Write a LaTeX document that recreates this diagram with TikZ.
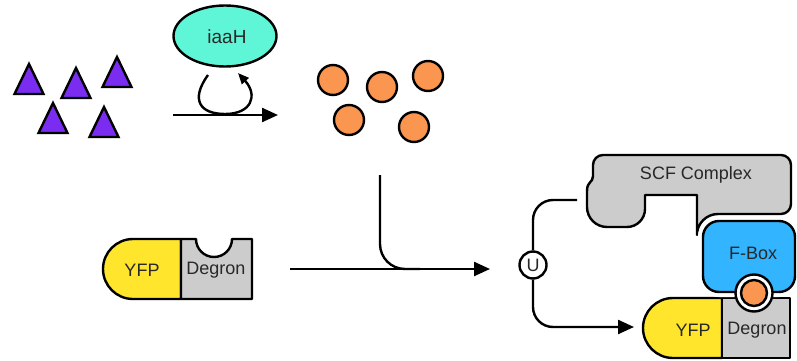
\documentclass[tikz,border=0pt]{standalone}
\usepackage{fontspec}
\setmainfont{Liberation Sans}
\usetikzlibrary{shapes.geometric,arrows.meta}
\definecolor{tripurple}{RGB}{122,44,240}
\definecolor{turq}{RGB}{95,245,215}
\definecolor{dotorange}{RGB}{250,150,80}
\definecolor{yfpyellow}{RGB}{255,230,45}
\definecolor{boxgray}{RGB}{204,204,204}
\definecolor{fblue}{RGB}{50,180,255}
\definecolor{txt}{RGB}{40,40,40}
\tikzset{
  lw/.style={line width=2.4pt},
  tri/.style={lw, draw=black, fill=tripurple, line join=miter},
  dot/.style={circle, lw, draw=black, fill=dotorange, minimum size=30pt, inner sep=0pt},
  lbl/.style={text=txt, font=\fontsize{18}{21}\selectfont, inner sep=0pt},
  arr/.style={lw, -{Triangle[length=16pt,width=14pt]}},
  smallarr/.style={lw, -{Triangle[length=11pt,width=9pt]}},
  part/.style={lw, draw=black, line join=round},
}
\begin{document}
\begin{tikzpicture}[x=1pt,y=-1pt]
\useasboundingbox (0,0) rectangle (797,361);
\clip (0,0) rectangle (797,361);
% triangles
\foreach \ax/\ay in {29/64, 76/68, 117/57, 53/103, 104/107}
  \draw[tri] (\ax,\ay) -- ++(14.5,30) -- ++(-29,0) -- cycle;
% iaaH
\node[ellipse, lw, draw=black, fill=turq, minimum width=103pt, minimum height=61pt, inner sep=0pt] (iaah) at (225,36) {};
\node[lbl, font=\fontsize{19}{22}\selectfont] (iaahlbl) at (227,37) {iaaH};
% top arrow and loop
\coordinate (ta1) at (173,115);
\coordinate (ta2) at (278,115);
\draw[arr] (ta1) -- (ta2);
\coordinate (loopstart) at (208,75);
\coordinate (loopbot) at (225,114);
\coordinate (loopend) at (238,73);
\draw[smallarr] (loopstart) .. controls (190,100) and (200,114) .. (loopbot)
  .. controls (252,114) and (258,95) .. (loopend);
% orange dots
\node[dot] (d1) at (333,80) {};
\node[dot] (d2) at (382,87) {};
\node[dot] (d3) at (428,76) {};
\node[dot] (d4) at (349,120) {};
\node[dot] (d5) at (414,127) {};
% left YFP-Degron
\draw[part, fill=yfpyellow] (181,239) -- (133,239) arc[start angle=270, end angle=90, radius=30] -- (181,299) -- cycle;
\draw[part, fill=boxgray] (181,239) -- (196,239) arc[start angle=180, end angle=0, radius=18] -- (252,239) -- (252,299) -- (181,299) -- cycle;
\node[lbl] (yfp1) at (142,270) {YFP};
\node[lbl] (deg1) at (216,270) {Degron};
% bottom arrow with merging line
\coordinate (ba1) at (290,269);
\coordinate (ba2) at (490,269);
\draw[arr] (ba1) -- (ba2);
\coordinate (vm) at (380,175);
\draw[lw] (vm) -- (380,244) arc[start angle=180, end angle=90, radius=25] -- (420,269);
% SCF complex
\draw[part, fill=boxgray] (593,176) -- (593,165) arc[start angle=180, end angle=270, radius=10]
  -- (781,155) arc[start angle=270, end angle=360, radius=10]
  -- (791,204) arc[start angle=0, end angle=90, radius=10]
  -- (718,214) arc[start angle=270, end angle=180, radius=21]
  -- (697,195) -- (645,195) -- (645,209) arc[start angle=0, end angle=90, radius=18]
  -- (607,227) arc[start angle=90, end angle=180, radius=20]
  -- (587,191) .. controls (587,181) and (593,183) .. cycle;
\node[lbl] (scf) at (696,175) {SCF Complex};
% bottom YFP-Degron
\draw[part, fill=yfpyellow] (722,298) -- (673,298) arc[start angle=270, end angle=90, radius=30] -- (722,358) -- cycle;
\draw[part, fill=boxgray] (722,298) rectangle (790,358);
\node[lbl] (yfp2) at (693,330) {YFP};
\node[lbl] (deg2) at (757,330) {Degron};
% F-Box
\draw[line width=10pt, white, rounded corners=16pt] (703,221) rectangle (795,292);
\draw[part, fill=fblue, rounded corners=16pt] (703,221) rectangle (795,292);
\node[lbl] (fbox) at (753,253) {F-Box};
% bound auxin
\node[circle, lw, draw=black, fill=white, minimum size=37pt, inner sep=0pt] (ring) at (754,293) {};
\node[circle, lw, draw=black, fill=dotorange, minimum size=26pt, inner sep=0pt] (aux) at (754,293) {};
% ubiquitin path
\node[circle, lw, draw=black, fill=white, minimum size=27pt, inner sep=0pt, lbl] (U) at (533,265) {U};
\coordinate (scfpt) at (577,200);
\coordinate (yfpin) at (634,327);
\draw[lw, rounded corners=20pt] (scfpt) -| (U.north);
\draw[arr, rounded corners=20pt] (U.south) |- (yfpin);
\end{tikzpicture}
\end{document}
